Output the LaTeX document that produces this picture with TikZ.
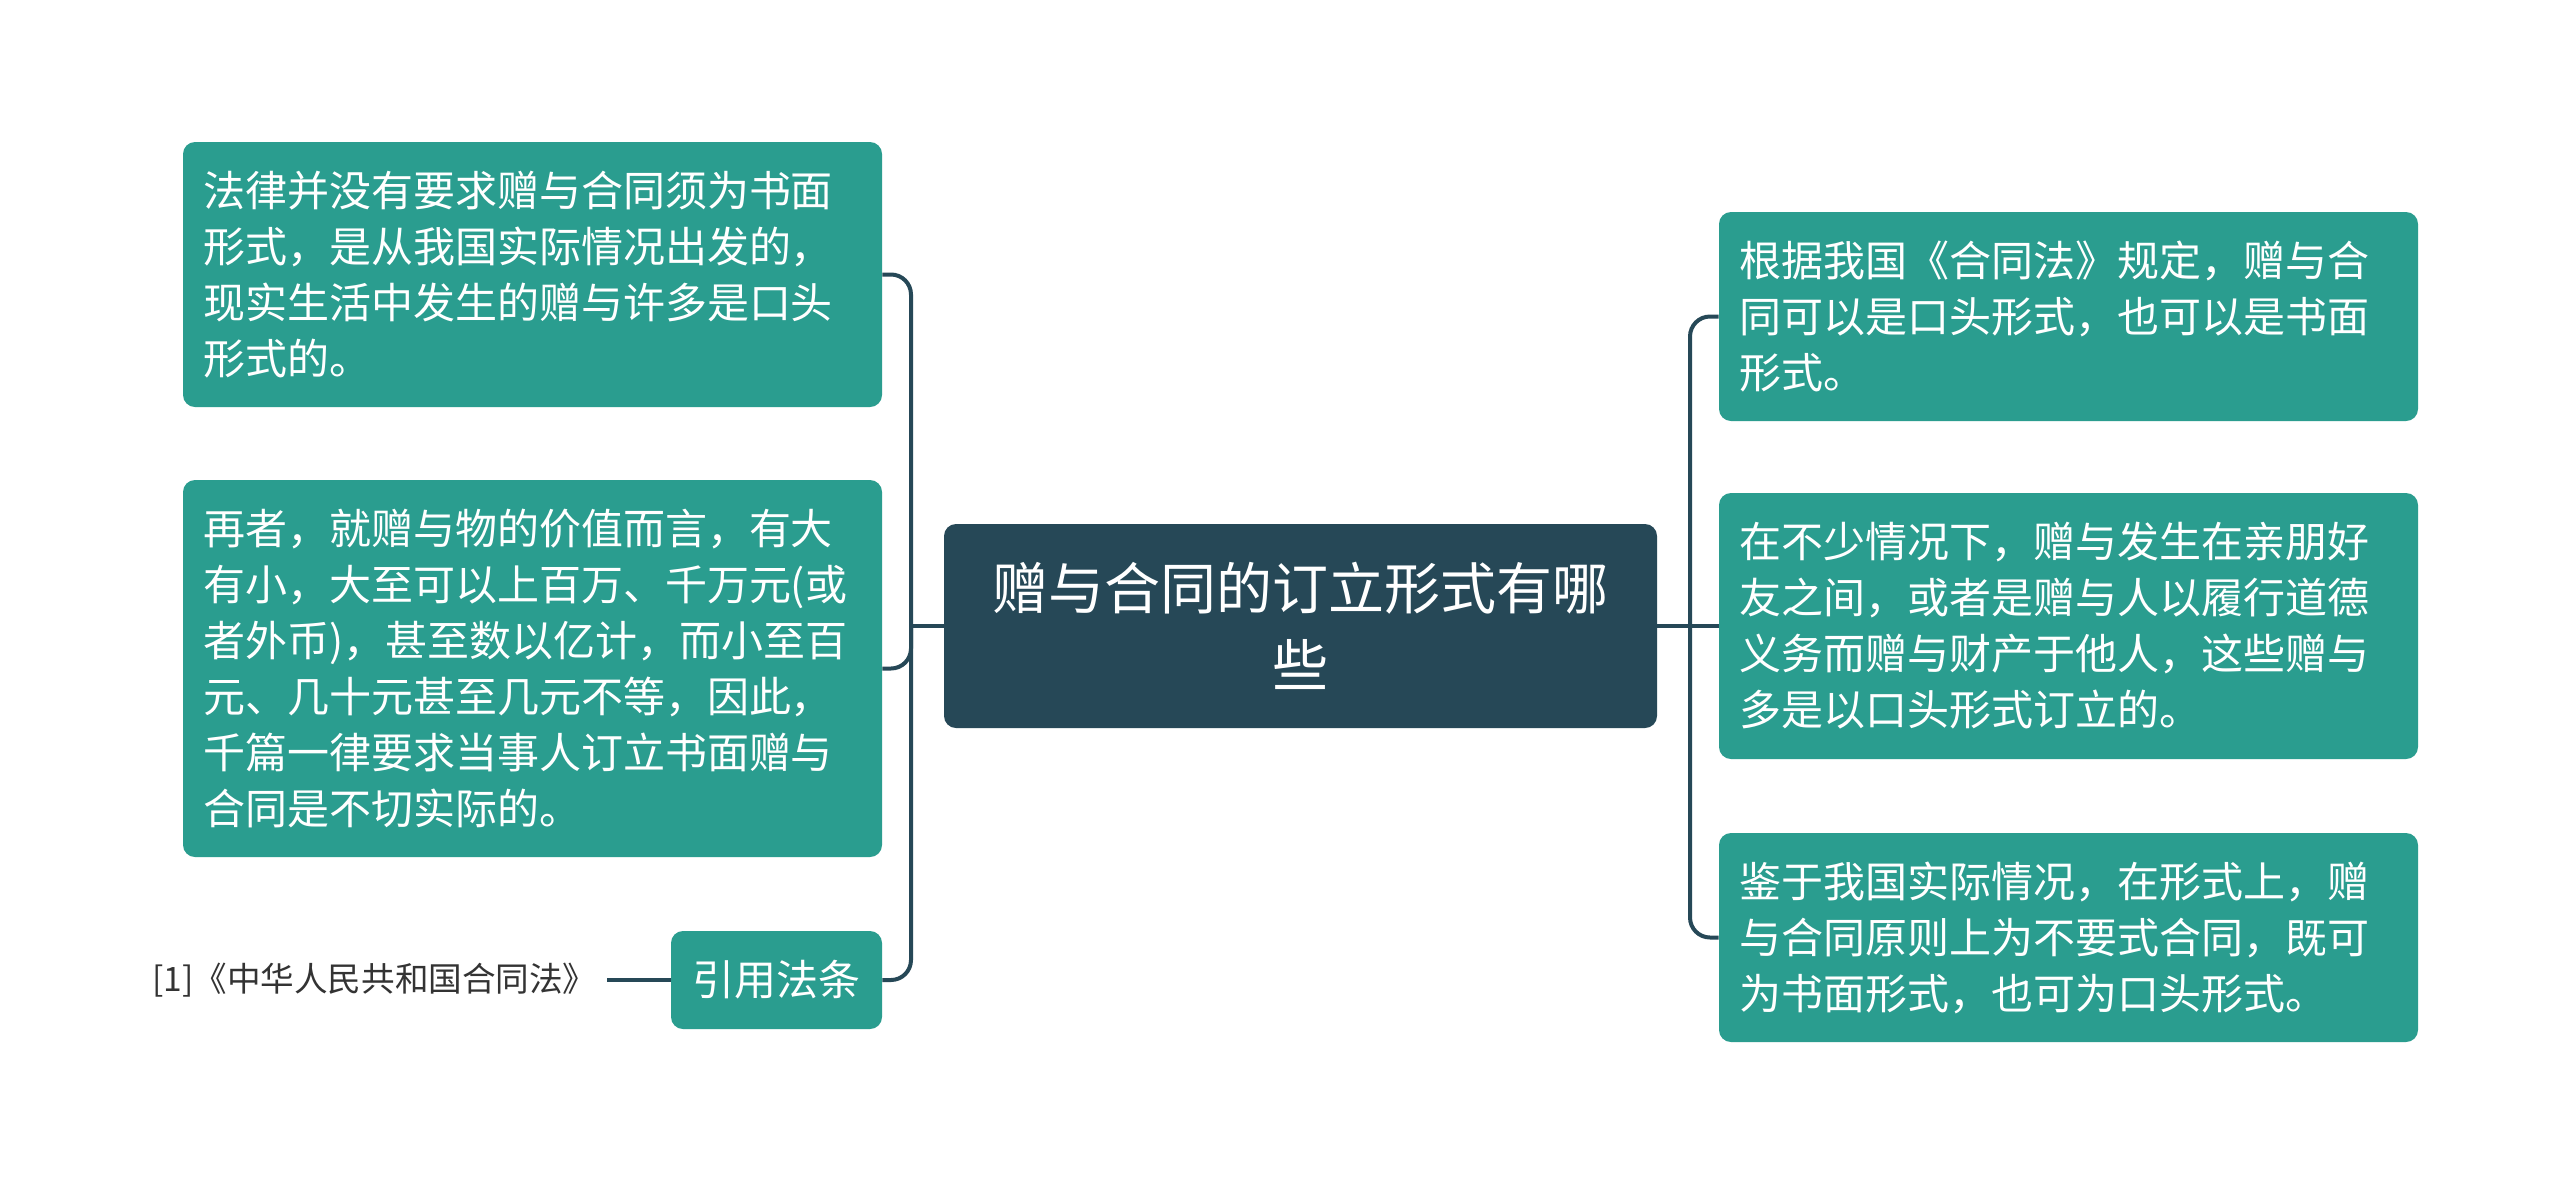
\documentclass[tikz,border=0pt]{standalone}
\usepackage{fontspec}
\setmainfont{Noto Sans CJK SC}
\definecolor{leafgreen}{RGB}{42,157,143}
\definecolor{rootnavy}{RGB}{38,72,87}
\definecolor{citegray}{RGB}{51,51,51}
\tikzset{
  leaf/.style={fill=leafgreen, rounded corners=6pt, text=white,
    font=\fontsize{21}{28}\selectfont, align=left, text width=329.5pt,
    inner xsep=10pt, inner ysep=0pt, anchor=center},
  tag/.style={fill=leafgreen, rounded corners=6pt, text=white,
    font=\fontsize{21}{28}\selectfont, align=center, minimum width=105.5pt,
    minimum height=49pt, inner sep=0pt, anchor=center},
  root/.style={fill=rootnavy, rounded corners=6pt, text=white,
    font=\fontsize{28}{38.5}\selectfont, align=center, text width=336pt,
    minimum width=356.5pt, minimum height=102pt, inner xsep=10pt, inner ysep=0pt, anchor=center},
  cite/.style={text=citegray, font=\fontsize{16.8}{20}\selectfont, inner xsep=5pt, inner ysep=0pt},
  link/.style={draw=rootnavy, line width=2pt, rounded corners=10pt},
}
\begin{document}
\begin{tikzpicture}[x=0.5pt,y=-0.5pt]
\useasboundingbox[fill=white] (0,0) rectangle (2560,1184);

\node[root] (c) at (1300.5,626) {赠与合同的订立形式有哪\\些};

\node[leaf, minimum height=132.5pt] (l1) at (532.5,274.5) {法律并没有要求赠与合同须为书面\\形式，是从我国实际情况出发的，\\现实生活中发生的赠与许多是口头\\形式的。};
\node[leaf, minimum height=188.5pt] (l2) at (532.5,668.5) {再者，就赠与物的价值而言，有大\\有小，大至可以上百万、千万元(或\\者外币)，甚至数以亿计，而小至百\\元、几十元甚至几元不等，因此，\\千篇一律要求当事人订立书面赠与\\合同是不切实际的。};
\node[tag] (l3) at (776.5,980) {引用法条};
\node[cite, anchor=east] (ct) at (607,980) {[1]《中华人民共和国合同法》};

\node[leaf, minimum height=104.5pt] (r1) at (2068.5,316.5) {根据我国《合同法》规定，赠与合\\同可以是口头形式，也可以是书面\\形式。};
\node[leaf, minimum height=133pt] (r2) at (2068.5,626) {在不少情况下，赠与发生在亲朋好\\友之间，或者是赠与人以履行道德\\义务而赠与财产于他人，这些赠与\\多是以口头形式订立的。};
\node[leaf, minimum height=104.5pt] (r3) at (2068.5,937.5) {鉴于我国实际情况，在形式上，赠\\与合同原则上为不要式合同，既可\\为书面形式，也可为口头形式。};

\coordinate (lj) at (911,626);
\coordinate (rj) at (1690,626);

\draw[link] (c.west) -- (lj);
\draw[link] (lj) |- (l1.east);
\draw[link] (lj) |- (l2.east);
\draw[link] (lj) |- (l3.east);
\draw[link] (ct.east) -- (l3.west);

\draw[link] (c.east) -- (rj);
\draw[link] (rj) |- (r1.west);
\draw[link] (rj) -- (r2.west);
\draw[link] (rj) |- (r3.west);
\end{tikzpicture}
\end{document}
